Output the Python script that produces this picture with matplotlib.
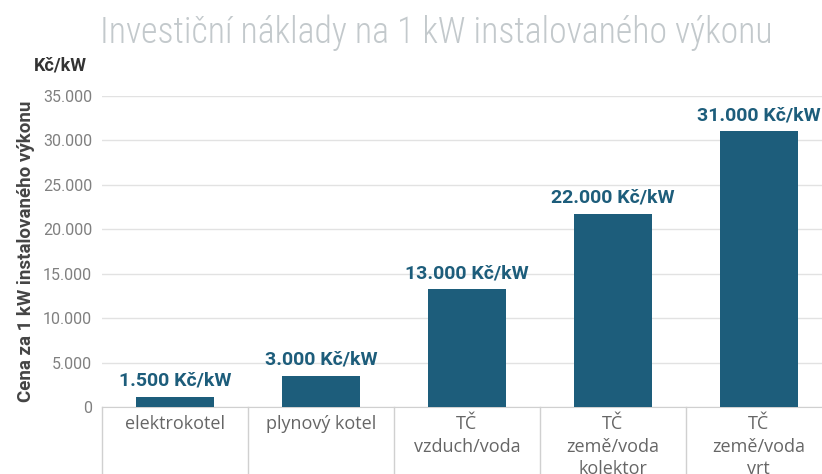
import matplotlib.pyplot as plt
from matplotlib import font_manager

categories = ['elektrokotel', 'plynový kotel', 'TČ\nvzduch/voda', 'TČ\nzemě/voda\nkolektor', 'TČ\nzemě/voda\nvrt']
bar_heights = [1150, 3500, 13250, 21750, 31050]   # heights as drawn in the picture
bar_labels = ['1.500 Kč/kW', '3.000 Kč/kW', '13.000 Kč/kW', '22.000 Kč/kW', '31.000 Kč/kW']
yticks = [0, 5000, 10000, 15000, 20000, 25000, 30000, 35000]
ytick_labels = ['0', '5.000', '10.000', '15.000', '20.000', '25.000', '30.000', '35.000']

bar_color = '#1d5d7b'

fig = plt.figure(figsize=(8.22, 4.74), dpi=100)
ax = fig.add_axes([0.124, 0.1414, 0.888, 0.656])

x = list(range(len(categories)))
ax.bar(x, bar_heights, width=0.53, color=bar_color, zorder=3)

for xi, h, lab in zip(x, bar_heights, bar_labels):
    ax.annotate(lab, (xi, h), xytext=(0, 5), textcoords='offset points',
                ha='center', va='bottom', fontsize=14, fontweight='bold',
                color=bar_color, family='Roboto')

ax.set_xlim(-0.5, 4.5)
ax.set_ylim(0, 35000)
ax.set_yticks(yticks)
ax.set_yticklabels(ytick_labels, family='Roboto', fontsize=11.5, color='#808080')
ax.set_xticks([])
ax.tick_params(axis='y', length=0, pad=7)
ax.grid(axis='y', color='#e2e2e2', linewidth=1, zorder=0)
for s in ['top', 'right', 'left']:
    ax.spines[s].set_visible(False)
ax.spines['bottom'].set_color('#d0d0d0')

# category "table" below the axis
trans = ax.get_xaxis_transform()
for b in [-0.5, 0.5, 1.5, 2.5, 3.5, 4.5]:
    ax.plot([b, b], [0, -0.3], transform=trans, color='#d0d0d0', lw=1, clip_on=False)
for xi, cat in zip(x, categories):
    ax.text(xi, -0.027, cat, transform=trans, ha='center', va='top',
            fontsize=13, color='#666666', family='Open Sans', linespacing=1.3)

ax.set_ylabel('Cena za 1 kW instalovaného výkonu', family='Roboto', fontweight='bold',
              fontsize=13.5, color='#444444', labelpad=6)
fig.text(0.041, 0.862, 'Kč/kW', family='Roboto', fontweight='bold', fontsize=13,
         color='#333333', va='center')

# title: a narrow font if one is installed, sized to the reference width
names = {f.name for f in font_manager.fontManager.ttflist}
title_font = 'Roboto'
for cand in ['Roboto Condensed', 'Liberation Sans Narrow', 'DejaVu Sans Condensed']:
    if cand in names:
        title_font = cand
        break
title = fig.text(0.531, 0.93, 'Investiční náklady na 1 kW instalovaného výkonu',
                 ha='center', va='center', fontsize=24, color='#c3c9cc',
                 family=title_font, fontweight='light')
fig.canvas.draw()
w = title.get_window_extent().width
title.set_fontsize(24 * 672 / w)

fig.savefig('out.png', dpi=100)
